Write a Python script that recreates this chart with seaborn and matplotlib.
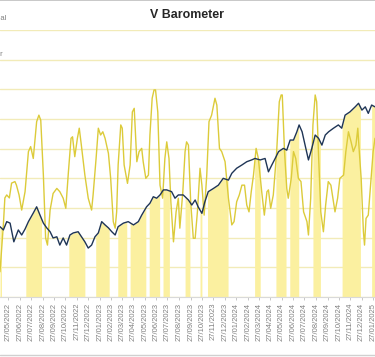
import numpy as np
import pandas as pd
import matplotlib
matplotlib.use('Agg')
import matplotlib.pyplot as plt
import matplotlib.dates as mdates
from matplotlib.lines import Line2D
import seaborn as sns

# day offsets are counted from START
START = '2022-05-05'
X_END = '2025-02-01'

# dark blue index line
index_days = [0, 9, 18, 27, 37, 49, 58, 67, 76, 89, 98, 107, 116, 125, 134, 142,
              152, 160, 169, 178, 187, 196, 209, 218, 227, 236, 245, 254, 263,
              272, 281, 290, 299, 308, 316, 330, 343, 357, 370, 379, 392, 401,
              410, 419, 428, 437, 446, 459, 468, 477, 490, 495, 504, 513, 522,
              530, 540, 548, 557, 571, 584, 597, 611, 620, 633, 647, 660, 673,
              682, 696, 709, 718, 727, 736, 745, 758, 767, 776, 785, 794, 800,
              808, 816, 825, 834, 843, 852, 861, 870, 879, 892, 905, 914, 923,
              936, 950, 959, 968, 977, 985, 994, 1003]
index_vals = [23.7, 22.6, 25.4, 24.9, 18.6, 22.6, 20.9, 22.9, 25.4, 28.3, 30.4,
              27.6, 24.9, 23.3, 22.0, 19.9, 20.3, 17.5, 19.9, 17.5, 20.9, 21.6,
              22.0, 20.3, 18.6, 16.5, 17.5, 20.3, 21.6, 25.4, 24.3, 23.3, 22.0,
              20.9, 23.7, 24.9, 25.4, 24.3, 25.4, 27.6, 30.4, 31.6, 33.8, 33.3,
              34.4, 36.1, 36.1, 35.5, 33.3, 34.4, 34.4, 33.8, 32.7, 31.0, 32.7,
              30.4, 28.2, 32.1, 35.5, 36.6, 37.7, 40.0, 39.4, 41.7, 43.4, 44.5,
              45.6, 46.2, 46.7, 46.2, 46.7, 42.2, 44.5, 46.7, 49.0, 50.1, 49.5,
              52.9, 52.9, 55.7, 58.0, 55.7, 51.2, 46.2, 50.1, 54.6, 53.5, 51.2,
              54.6, 55.7, 56.9, 58.0, 56.9, 61.3, 62.4, 64.1, 65.3, 63.0, 64.1,
              61.9, 64.7, 64.1]

# yellow barometer line
baro_days = [0, 9, 13, 18, 25, 31, 40, 44, 51, 58, 67, 76, 82, 89, 98, 104, 109,
             116, 122, 127, 134, 142, 152, 160, 169, 176, 183, 190, 194, 200,
             207, 212, 217, 227, 236, 245, 249, 257, 263, 269, 275, 281, 290,
             296, 303, 308, 312, 316, 323, 327, 332, 341, 348, 354, 359, 366,
             372, 379, 383, 390, 397, 401, 407, 412, 416, 422, 428, 435, 441,
             446, 452, 457, 464, 471, 477, 481, 489, 495, 499, 504, 510, 517,
             522, 528, 535, 540, 546, 553, 559, 566, 575, 580, 587, 593, 602,
             611, 620, 626, 633, 640, 647, 654, 660, 666, 672, 678, 685, 691,
             700, 707, 714, 718, 724, 731, 740, 747, 752, 755, 761, 767, 771,
             779, 785, 791, 798, 805, 812, 821, 825, 831, 837, 843, 847, 852,
             858, 865, 871, 878, 885, 892, 896, 903, 909, 919, 925, 932, 939,
             945, 952, 957, 961, 966, 972, 975, 979, 985, 992, 998, 1003]
baro_vals = [8.5, 24.3, 33.4, 34.4, 33.4, 38.4, 38.9, 37.7, 34.4, 29.3, 35.5,
             49.0, 50.7, 46.7, 59.1, 61.3, 59.6, 41.1, 19.9, 17.5, 29.3, 34.9,
             36.6, 35.5, 33.3, 29.9, 42.2, 53.5, 54.0, 47.3, 53.5, 56.9, 51.8,
             41.1, 33.3, 29.3, 34.4, 46.7, 56.9, 54.6, 55.7, 53.5, 48.4, 40.0,
             25.4, 23.2, 28.7, 44.5, 58.0, 56.9, 44.5, 38.3, 44.5, 62.4, 63.6,
             45.6, 49.0, 50.1, 45.6, 40.0, 41.1, 54.6, 67.0, 69.8, 69.8, 62.4,
             37.7, 33.3, 46.7, 52.3, 46.7, 32.1, 18.6, 28.7, 33.3, 23.2, 35.5,
             49.0, 52.3, 51.2, 32.1, 19.8, 19.8, 28.7, 43.4, 37.7, 27.6, 41.1,
             59.1, 61.3, 67.0, 64.7, 50.1, 49.0, 45.6, 33.3, 24.3, 25.4, 32.1,
             34.4, 37.7, 37.7, 31.0, 28.7, 35.5, 41.1, 50.1, 46.7, 35.5, 27.6,
             35.5, 36.1, 29.9, 34.4, 49.0, 65.8, 68.1, 68.1, 49.0, 36.6, 33.3,
             40.0, 49.0, 46.7, 40.0, 38.9, 28.7, 25.4, 20.9, 33.3, 58.0, 68.1,
             65.8, 47.9, 28.7, 22.0, 31.0, 38.9, 37.7, 32.1, 28.7, 33.3, 40.0,
             41.1, 49.0, 55.7, 52.3, 49.0, 51.2, 56.9, 49.0, 40.0, 22.0, 17.5,
             26.5, 27.6, 38.9, 49.0, 53.5]

# periods where the signal is on (shaded under the index line)
signal_start = [0, 69, 184, 256, 315, 348, 399, 436, 495, 535, 555, 681, 738,
                775, 837, 915, 994]
signal_end = [4, 111, 227, 292, 339, 390, 427, 453, 508, 540, 610, 696, 765,
              799, 857, 964, 1003]

TITLE = 'V Barometer'
LEGEND_TAILS = ['Signal', 'Barometer']

NAVY = '#1F3556'
GOLD = '#DCCB3A'
FILL = '#FBF0A0'
GRID = '#F2EBB8'

start = pd.Timestamp(START)
index_df = pd.DataFrame({'date': start + pd.to_timedelta(index_days, unit='D'),
                         'value': index_vals})
baro_df = pd.DataFrame({'date': start + pd.to_timedelta(baro_days, unit='D'),
                        'value': baro_vals})

sns.set_style('white')
plt.rcParams['font.family'] = ['Liberation Sans', 'DejaVu Sans']

fig = plt.figure(figsize=(3.75, 3.57), dpi=100)
ax = fig.add_axes([0, 60 / 357, 1, 267 / 357])

# shaded signal periods, from zero up to the index line
days = np.arange(0, 1004)
idx_daily = np.interp(days, index_days, index_vals)
for s, e in zip(signal_start, signal_end):
    m = (days >= s) & (days <= e)
    ax.fill_between(start + pd.to_timedelta(days[m], unit='D'), 0, idx_daily[m],
                    color=FILL, linewidth=0, zorder=1)

sns.lineplot(data=baro_df, x='date', y='value', color=GOLD, linewidth=1.0,
             ax=ax, zorder=2)
sns.lineplot(data=index_df, x='date', y='value', color=NAVY, linewidth=1.0,
             ax=ax, zorder=3)

ax.set_xlim(pd.Timestamp(START), pd.Timestamp(X_END))
ax.set_ylim(0, 90)
ax.set_yticks(np.arange(0, 91, 10))
ax.yaxis.grid(True, color=GRID, linewidth=1.0)
ax.set_axisbelow(True)
ax.tick_params(axis='y', left=False, labelleft=False)
ax.set_xlabel('')
ax.set_ylabel('')

ax.xaxis.set_major_locator(mdates.MonthLocator(bymonthday=27))
ax.xaxis.set_major_formatter(mdates.DateFormatter('%d/%m/%Y'))
ax.tick_params(axis='x', bottom=True, length=2, width=0.6, color='#BFBFBF',
               labelsize=5.5, labelcolor='#808080', pad=2, labelrotation=90)

for side in ['top', 'left', 'right']:
    ax.spines[side].set_visible(False)
ax.spines['bottom'].set_color('#D9D9D9')
ax.spines['bottom'].set_linewidth(0.8)

fig.text(0.5, 1 - 15 / 357, TITLE, ha='center', va='center',
         fontsize=8.9, fontweight='bold', color='#262626')
fig.text(7 / 375, 1 - 19 / 357, LEGEND_TAILS[0], ha='right', va='center',
         fontsize=5.5, color='#808080')
fig.text(3 / 375, 1 - 55 / 357, LEGEND_TAILS[1], ha='right', va='center',
         fontsize=5.5, color='#808080')

# chart frame edges visible in the crop
fig.add_artist(Line2D([0, 1], [0.999, 0.999], transform=fig.transFigure,
                      color='#BFBFBF', linewidth=1.2))
fig.add_artist(Line2D([0, 1], [2 / 357, 2 / 357], transform=fig.transFigure,
                      color='#D0D0D0', linewidth=1.0))

fig.savefig('out.png', dpi=100)
